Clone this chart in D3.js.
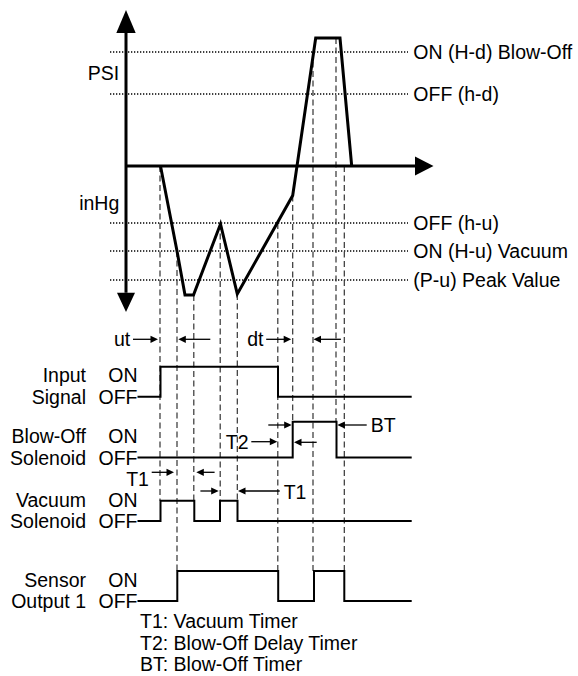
<!DOCTYPE html>
<html>
<head>
<meta charset="utf-8">
<script src="https://cdn.jsdelivr.net/npm/d3@7/dist/d3.min.js"></script>
<style>
  html, body { margin: 0; padding: 0; background: #fff; }
  svg text { font-family: "Liberation Sans", Arial, Helvetica, sans-serif; font-size: 19.5px; fill: #000; }
</style>
</head>
<body>
<svg id="chart" width="578" height="676"></svg>
<script>
// ---- Pressure trace (time units, pressure units: + = PSI, - = inHg) ----
const pressureTime  = [34.5, 51, 59, 67.5, 94.5, 111.3, 166.7, 189.7, 214, 225.7];
const pressureValue = [0, -85, -129, -129, -58, -128, -29.5, 128, 128, 0];

// ---- Switching thresholds ----
const thresholdLabels = ["ON (H-d) Blow-Off", "OFF (h-d)", "OFF (h-u)", "ON (H-u) Vacuum", "(P-u) Peak Value"];
const thresholdValues = [114, 72, -57, -85, -114];

// ---- Digital signals: edge times, every signal starts OFF ----
const signalLabels = [["Input", "Signal"], ["Blow-Off", "Solenoid"], ["Vacuum", "Solenoid"], ["Sensor", "Output 1"]];
const inputEdges   = [34.5, 152];
const blowOffEdges = [166.7, 210.5];
const vacuumEdges  = [34.5, 68.3, 94, 111.5];
const sensorEdges  = [51.3, 152.2, 188, 218.3];
const signalSpan   = [11.5, 285.7];

// ---- Event guides: time, pressure where they start, signal they drop to ----
const guideTime  = [34, 51, 67.8, 94.2, 111.3, 151.8, 166.7, 187, 210, 218.3];
const guideFrom  = [0, -85, -129, -58, -128, -57, -29.5, 114, 128, 0];
const guideToRow = [2, 3, 2, 2, 2, 3, 1, 3, 1, 3];

// ---- Timer intervals ----
const intervalLabels = ["ut", "dt", "T2", "BT", "T1", "T1"];
const intervalStart  = [34.5, 166.7, 152, 166.7, 51, 94];
const intervalEnd    = [51, 187, 166.7, 210.5, 68, 111.5];

// ---- Legend ----
const legendLines = ["T1: Vacuum Timer", "T2: Blow-Off Delay Timer", "BT: Blow-Off Timer"];

// ================= layout =================
const x = d3.scaleLinear().domain([0, 300]).range([126, 426]);
const y = d3.scaleLinear().domain([-146, 156]).range([312, 10]);

// OFF / ON levels of each signal row
const rowLevels = [[396.7, 366.7], [457.5, 421.7], [521, 500.7], [601, 571]];
const rowScale = rowLevels.map(([off, on]) => d3.scaleLinear().domain([0, 1]).range([off, on]));

// interval arrow placement: y of left / right arrow, tail lengths, label side
const intervalLayout = [
  { yl: 339.3, yr: 339.3, ll: 25, lr: 32, gl: 2.5, gr: 1.3, side: "left",  ty: 339.3 },
  { yl: 339.3, yr: 339.3, ll: 25, lr: 27.4, gl: 1.5, gr: 0.5, side: "left", ty: 339.3 },
  { yl: 441.7, yr: 442.3, ll: 26, lr: 22.7, gl: 0.7, gr: 1.3, side: "left", ty: 441.7 },
  { yl: 425,   yr: 425,   ll: 23.4, lr: 29.4, gl: 1.0, gr: 0.8, side: "right", ty: 425 },
  { yl: 472.3, yr: 472.3, ll: 22.3, lr: 18.3, gl: 3, gr: 2.3, side: "left", ty: 479 },
  { yl: 491,   yr: 491,   ll: 18.3, lr: 41.7, gl: 1.3, gr: 0.5, side: "right", ty: 491.5 }
];

const svg = d3.select("#chart");
const capShift = 7.0; // baseline offset that centres capitals on a y position

function tri(tipX, tipY, dir, len, half) {
  // dir: "r", "l", "u", "d"
  if (dir === "r") return `M${tipX},${tipY}L${tipX - len},${tipY - half}L${tipX - len},${tipY + half}Z`;
  if (dir === "l") return `M${tipX},${tipY}L${tipX + len},${tipY - half}L${tipX + len},${tipY + half}Z`;
  if (dir === "u") return `M${tipX},${tipY}L${tipX - half},${tipY + len}L${tipX + half},${tipY + len}Z`;
  return `M${tipX},${tipY}L${tipX - half},${tipY - len}L${tipX + half},${tipY - len}Z`;
}

// ---- threshold dotted lines & labels ----
const thr = svg.append("g");
thresholdValues.forEach((v, i) => {
  thr.append("line")
    .attr("x1", 110).attr("x2", 408)
    .attr("y1", y(v)).attr("y2", y(v))
    .attr("stroke", "#000").attr("stroke-width", 1.5)
    .attr("stroke-dasharray", "1.3,1.7");
  thr.append("text")
    .attr("x", 413.3).attr("y", y(v) + capShift)
    .text(thresholdLabels[i]);
});

// ---- event guides ----
const guides = svg.append("g");
guideTime.forEach((t, i) => {
  guides.append("line")
    .attr("x1", x(t)).attr("x2", x(t))
    .attr("y1", y(guideFrom[i])).attr("y2", rowScale[guideToRow[i]](1))
    .attr("stroke", "#333").attr("stroke-width", 1.2)
    .attr("stroke-dasharray", "6,3.5");
});

// ---- axes ----
const axes = svg.append("g");
axes.append("line").attr("x1", x(0)).attr("x2", x(0)).attr("y1", y(133)).attr("y2", y(-126.7))
  .attr("stroke", "#000").attr("stroke-width", 3);
axes.append("path").attr("d", tri(x(0), y(156), "u", 23, 9.7));
axes.append("path").attr("d", tri(x(0), y(-146), "d", 19.3, 9));
axes.append("line").attr("x1", x(0)).attr("x2", x(290)).attr("y1", y(0)).attr("y2", y(0))
  .attr("stroke", "#000").attr("stroke-width", 3);
axes.append("path").attr("d", tri(x(307.5), y(0), "r", 18.5, 9.5));
axes.append("text").attr("x", 119.3).attr("y", 73.3 + capShift).attr("text-anchor", "end").text("PSI");
axes.append("text").attr("x", 119.3).attr("y", 202.7 + capShift).attr("text-anchor", "end").text("inHg");

// ---- pressure trace ----
const trace = d3.line().x(d => x(d[0])).y(d => y(d[1]));
svg.append("path")
  .attr("d", trace(d3.zip(pressureTime, pressureValue)))
  .attr("fill", "none").attr("stroke", "#000").attr("stroke-width", 3)
  .attr("stroke-linejoin", "miter");

// ---- digital signals ----
const allEdges = [inputEdges, blowOffEdges, vacuumEdges, sensorEdges];
allEdges.forEach((edges, r) => {
  const pts = [[signalSpan[0], 0]];
  let state = 0;
  edges.forEach(t => { pts.push([t, state]); state = 1 - state; pts.push([t, state]); });
  pts.push([signalSpan[1], state]);
  svg.append("path")
    .attr("d", d3.line().x(d => x(d[0])).y(d => rowScale[r](d[1]))(pts))
    .attr("fill", "none").attr("stroke", "#000").attr("stroke-width", 2);

  const off = rowScale[r](0);
  const g = svg.append("g");
  g.append("text").attr("x", 86).attr("y", off - 21.5 + capShift).attr("text-anchor", "end").text(signalLabels[r][0]);
  g.append("text").attr("x", 86).attr("y", off + capShift).attr("text-anchor", "end").text(signalLabels[r][1]);
  g.append("text").attr("x", 137.5).attr("y", off - 21.5 + capShift).attr("text-anchor", "end").text("ON");
  g.append("text").attr("x", 137.5).attr("y", off + capShift).attr("text-anchor", "end").text("OFF");
});

// ---- timer interval arrows ----
const ann = svg.append("g");
intervalLabels.forEach((lab, i) => {
  const L = intervalLayout[i];
  const tipL = x(intervalStart[i]) - L.gl;
  const tipR = x(intervalEnd[i]) + L.gr;
  ann.append("line").attr("x1", tipL - L.ll).attr("x2", tipL - 6).attr("y1", L.yl).attr("y2", L.yl)
    .attr("stroke", "#000").attr("stroke-width", 1.3);
  ann.append("path").attr("d", tri(tipL, L.yl, "r", 7.5, 3.6));
  ann.append("line").attr("x1", tipR + 6).attr("x2", tipR + L.lr).attr("y1", L.yr).attr("y2", L.yr)
    .attr("stroke", "#000").attr("stroke-width", 1.3);
  ann.append("path").attr("d", tri(tipR, L.yr, "l", 7.5, 3.6));
  if (L.side === "left") {
    ann.append("text").attr("x", tipL - L.ll - 2.8).attr("y", L.ty + capShift)
      .attr("text-anchor", "end").text(lab);
  } else {
    ann.append("text").attr("x", tipR + L.lr + 4).attr("y", L.ty + capShift).text(lab);
  }
});

// ---- legend ----
legendLines.forEach((s, i) => {
  svg.append("text").attr("x", 140).attr("y", 620.7 + i * 21.8 + capShift).text(s);
});
</script>
</body>
</html>
